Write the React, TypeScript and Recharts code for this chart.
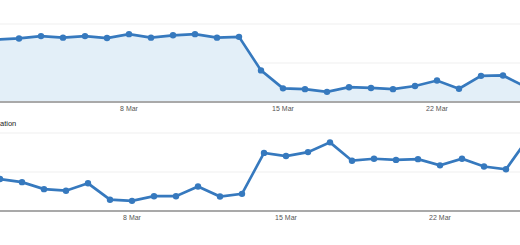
import React from "react";
import { AreaChart, Area, LineChart, Line, XAxis, YAxis, CartesianGrid } from "recharts";

const dates = [
  "2 Mar", "3 Mar", "4 Mar", "5 Mar", "6 Mar", "7 Mar", "8 Mar", "9 Mar", "10 Mar",
  "11 Mar", "12 Mar", "13 Mar", "14 Mar", "15 Mar", "16 Mar", "17 Mar", "18 Mar",
  "19 Mar", "20 Mar", "21 Mar", "22 Mar", "23 Mar", "24 Mar", "25 Mar", "26 Mar",
];

const topValues = [
  160, 163, 169, 165, 169, 164, 174, 165, 171, 174, 165, 167,
  81, 35, 33, 26, 38, 36, 33, 41, 55, 34, 67, 68, 40,
];

const bottomValues = [
  82, 74, 56, 52, 71, 29, 26, 38, 38, 63, 37, 44,
  149, 141, 151, 176, 129, 134, 131, 133, 117, 134, 114, 107, 186,
];

const tickLabels = ["8 Mar", "15 Mar", "22 Mar"];
const yTicks = [0, 100, 200];
const bottomTitle = "ation";

const topData = dates.map((d, i) => ({ i, date: d, v: topValues[i] }));
const bottomData = dates.map((d, i) => ({ i, date: d, v: bottomValues[i] }));
const tickIdx = tickLabels.map((t) => dates.indexOf(t));

const BLUE = "#3679be";
const FILL = "#e3eff8";
const GRID = "#efefef";
const AXIS = "#a9a9a9";
const FONT = "'Liberation Sans', Arial, sans-serif";

const tickStyle = { fontSize: 7, fill: "#555", fontFamily: FONT };

export default function App() {
  return (
    <div
      style={{
        position: "fixed",
        left: 0,
        top: 0,
        width: 520,
        height: 245,
        overflow: "hidden",
        background: "#fff",
        fontFamily: FONT,
      }}
    >
      <div style={{ position: "absolute", left: -3, top: 0 }}>
        <AreaChart
          width={528}
          height={125}
          data={topData}
          margin={{ top: 24, right: 0, bottom: 3, left: 0 }}
        >
          <CartesianGrid vertical={false} stroke={GRID} />
          <YAxis hide domain={[0, 200]} ticks={yTicks} />
          <XAxis
            dataKey="i"
            type="number"
            domain={[0, dates.length - 1]}
            ticks={tickIdx}
            tickFormatter={(v: number) => dates[v]}
            height={20}
            tickLine={false}
            tickSize={0}
            tickMargin={4}
            axisLine={{ stroke: AXIS, strokeWidth: 2 }}
            tick={tickStyle}
            interval={0}
          />
          <Area
            type="linear"
            dataKey="v"
            stroke={BLUE}
            strokeWidth={2.7}
            fill={FILL}
            fillOpacity={1}
            dot={{ r: 3.2, fill: BLUE, stroke: BLUE, strokeWidth: 0 }}
            activeDot={false}
            isAnimationActive={false}
          />
        </AreaChart>
      </div>
      <div
        style={{
          position: "absolute",
          left: 0,
          top: 119,
          fontSize: 7.5,
          color: "#222",
          fontFamily: FONT,
          lineHeight: "9px",
        }}
      >
        {bottomTitle}
      </div>
      <div style={{ position: "absolute", left: 0, top: 110 }}>
        <LineChart
          width={528}
          height={124}
          data={bottomData}
          margin={{ top: 23, right: 0, bottom: 3, left: 0 }}
        >
          <CartesianGrid vertical={false} stroke={GRID} />
          <YAxis hide domain={[0, 200]} ticks={yTicks} />
          <XAxis
            dataKey="i"
            type="number"
            domain={[0, dates.length - 1]}
            ticks={tickIdx}
            tickFormatter={(v: number) => dates[v]}
            height={20}
            tickLine={false}
            tickSize={0}
            tickMargin={4}
            axisLine={{ stroke: AXIS, strokeWidth: 2 }}
            tick={tickStyle}
            interval={0}
          />
          <Line
            type="linear"
            dataKey="v"
            stroke={BLUE}
            strokeWidth={2.7}
            dot={{ r: 3.2, fill: BLUE, stroke: BLUE, strokeWidth: 0 }}
            activeDot={false}
            isAnimationActive={false}
          />
        </LineChart>
      </div>
    </div>
  );
}
